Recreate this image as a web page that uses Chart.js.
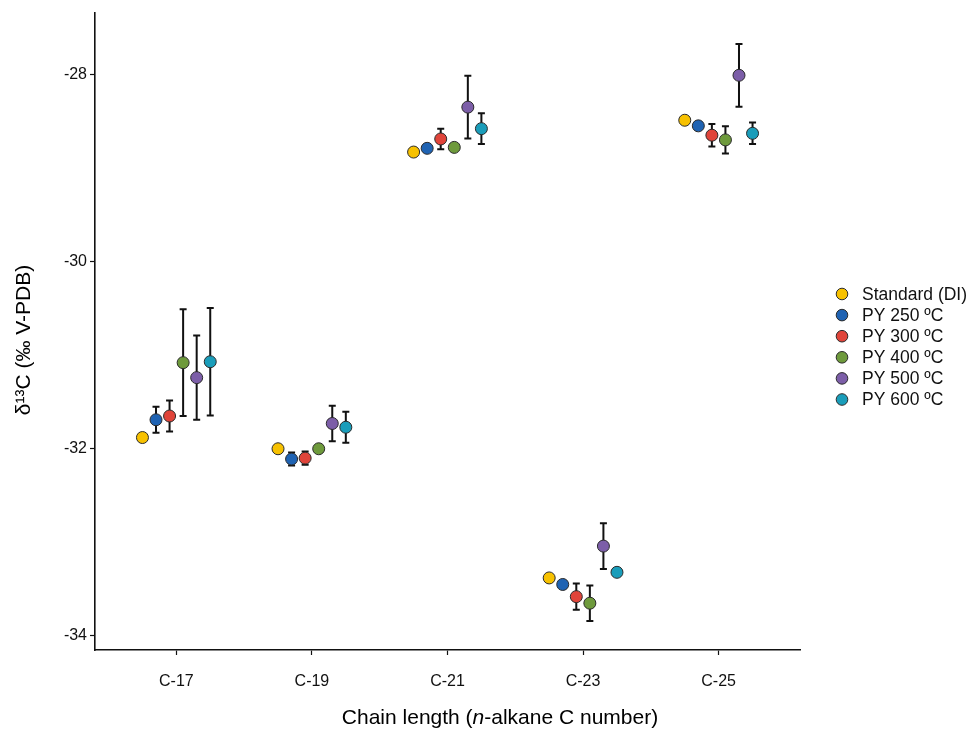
<!DOCTYPE html>
<html>
<head>
<meta charset="utf-8">
<script src="https://cdn.jsdelivr.net/npm/chart.js@4.4.1/dist/chart.umd.min.js"></script>
<style>
  html, body { margin: 0; padding: 0; background: #ffffff; }
  canvas { display: block; }
</style>
</head>
<body>
<canvas id="c" width="971" height="729"></canvas>
<script>
// ---- Data ----
const categories = ['C-17', 'C-19', 'C-21', 'C-23', 'C-25'];
const seriesNames = ['Standard (DI)', 'PY 250 ºC', 'PY 300 ºC', 'PY 400 ºC', 'PY 500 ºC', 'PY 600 ºC'];

const standardDI = [-31.88, -32.00, -28.83, -33.38, -28.49];
const py250 = [-31.69, -32.11, -28.79, -33.45, -28.55];
const py300 = [-31.65, -32.10, -28.69, -33.58, -28.65];
const py400 = [-31.08, -32.00, -28.78, -33.65, -28.70];
const py500 = [-31.24, -31.73, -28.35, -33.04, -28.01];
const py600 = [-31.07, -31.77, -28.58, -33.32, -28.63];

const standardDI_sd = [0, 0, 0, 0, 0];
const py250_sd = [0.14, 0.07, 0, 0, 0.04];
const py300_sd = [0.165, 0.07, 0.11, 0.14, 0.12];
const py400_sd = [0.57, 0, 0, 0.19, 0.145];
const py500_sd = [0.45, 0.19, 0.335, 0.245, 0.335];
const py600_sd = [0.575, 0.165, 0.165, 0.03, 0.115];

const yTicks = [-28, -30, -32, -34];

const seriesValues = [standardDI, py250, py300, py400, py500, py600];
const seriesSD = [standardDI_sd, py250_sd, py300_sd, py400_sd, py500_sd, py600_sd];
const colors = ['#F7C100', '#1F63B3', '#E0443A', '#6E9A3C', '#7C5EA8', '#1A9DBA'];

const FONT = '"Liberation Sans", Arial, Helvetica, sans-serif';
const DODGE = 0.1;

const datasets = seriesValues.map((vals, s) => ({
  label: seriesNames[s],
  data: vals.map((v, i) => ({ x: i + 1 + (s - 2.5) * DODGE, y: v })),
  sd: seriesSD[s],
  backgroundColor: colors[s],
  borderColor: '#2a2a2a',
  borderWidth: 1,
  pointRadius: 6,
  pointHoverRadius: 6,
  showLine: false
}));

const errorBars = {
  id: 'errorBars',
  beforeDatasetsDraw(chart) {
    const ctx = chart.ctx;
    const yScale = chart.scales.y;
    ctx.save();
    ctx.strokeStyle = '#111';
    ctx.lineWidth = 2;
    chart.data.datasets.forEach((ds, di) => {
      const meta = chart.getDatasetMeta(di);
      ds.data.forEach((pt, i) => {
        const sd = ds.sd[i];
        if (!sd) return;
        const x = meta.data[i].x;
        const yHi = yScale.getPixelForValue(pt.y + sd);
        const yLo = yScale.getPixelForValue(pt.y - sd);
        ctx.beginPath();
        ctx.moveTo(x, yHi); ctx.lineTo(x, yLo);
        ctx.moveTo(x - 3.5, yHi); ctx.lineTo(x + 3.5, yHi);
        ctx.moveTo(x - 3.5, yLo); ctx.lineTo(x + 3.5, yLo);
        ctx.stroke();
      });
    });
    ctx.restore();
  }
};

const extras = {
  id: 'extras',
  afterDraw(chart) {
    const ctx = chart.ctx;
    ctx.save();
    ctx.fillStyle = '#000';
    ctx.textBaseline = 'middle';
    // x title with italic n
    const parts = [
      { t: 'Chain length (', f: '21px ' + FONT },
      { t: 'n', f: 'italic 21px ' + FONT },
      { t: '-alkane C number)', f: '21px ' + FONT }
    ];
    let total = 0;
    parts.forEach(p => { ctx.font = p.f; p.w = ctx.measureText(p.t).width; total += p.w; });
    let xx = 500 - total / 2;
    ctx.textAlign = 'left';
    parts.forEach(p => { ctx.font = p.f; ctx.fillText(p.t, xx, 718); xx += p.w; });

    // y title
    ctx.save();
    ctx.translate(24, 340);
    ctx.rotate(-Math.PI / 2);
    ctx.textAlign = 'center';
    ctx.font = '21px ' + FONT;
    ctx.fillText('δ¹³C (‰ V-PDB)', 0, 0);
    ctx.restore();

    // Legend
    ctx.font = '17.5px ' + FONT;
    ctx.textAlign = 'left';
    ctx.textBaseline = 'middle';
    chart.data.datasets.forEach((ds, i) => {
      const y = 294 + i * 21.1;
      ctx.beginPath();
      ctx.arc(842, y, 5.8, 0, Math.PI * 2);
      ctx.fillStyle = ds.backgroundColor;
      ctx.fill();
      ctx.lineWidth = 1;
      ctx.strokeStyle = '#2a2a2a';
      ctx.stroke();
      ctx.fillStyle = '#111';
      ctx.fillText(ds.label, 862, y + 1);
    });
    ctx.restore();
  }
};

new Chart(document.getElementById('c'), {
  type: 'scatter',
  data: { datasets },
  plugins: [errorBars, extras],
  options: {
    responsive: false,
    animation: false,
    devicePixelRatio: 1,
    layout: { padding: { left: 0, right: 171, top: 10, bottom: 0 } },
    plugins: { legend: { display: false }, tooltip: { enabled: false } },
    scales: {
      x: {
        type: 'linear',
        min: 0.4,
        max: 5.6,
        afterBuildTicks: (axis) => { axis.ticks = categories.map((c, i) => ({ value: i + 1 })); },
        afterFit: (axis) => { axis.height = 79; },
        grid: { drawOnChartArea: false, drawTicks: true, tickLength: 5, tickColor: '#111', tickWidth: 1.2 },
        border: { display: true, color: '#111', width: 1.6 },
        ticks: {
          padding: 17,
          color: '#111',
          font: { family: FONT, size: 16 },
          callback: (v) => categories[Math.round(v) - 1],
          maxRotation: 0,
          autoSkip: false
        }
      },
      y: {
        type: 'linear',
        min: -34.15,
        max: -27.34,
        afterBuildTicks: (axis) => { axis.ticks = yTicks.map(v => ({ value: v })); },
        afterFit: (axis) => { axis.width = 95; },
        grid: { drawOnChartArea: false, drawTicks: true, tickLength: 5, tickColor: '#111', tickWidth: 1.2 },
        border: { display: true, color: '#111', width: 1.6 },
        ticks: {
          padding: 3,
          color: '#111',
          font: { family: FONT, size: 16 },
          callback: (v) => String(v)
        }
      }
    }
  }
});
</script>
</body>
</html>
